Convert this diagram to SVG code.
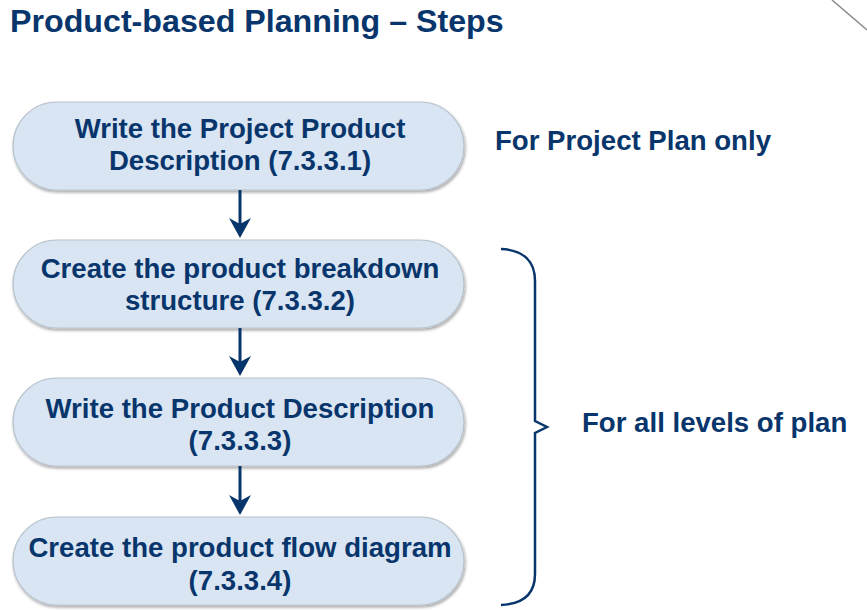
<svg xmlns="http://www.w3.org/2000/svg" width="867" height="610" viewBox="0 0 867 610">
  <defs>
    <filter id="shadow" x="-5%" y="-10%" width="110%" height="130%">
      <feGaussianBlur in="SourceAlpha" stdDeviation="1.5"/>
      <feOffset dx="1" dy="2" result="b"/>
      <feComponentTransfer><feFuncA type="linear" slope="0.35"/></feComponentTransfer>
      <feMerge><feMergeNode/><feMergeNode in="SourceGraphic"/></feMerge>
    </filter>
    <style>
      .box { fill: #d9e5f3; stroke: #b9c3cd; stroke-width: 1.2; filter: url(#shadow); }
      .t { font-family: "Liberation Sans", Arial, sans-serif; font-weight: bold; fill: #08366c; }
      .bt { font-size: 27.6px; text-anchor: middle; }
      .lbl { font-size: 27.6px; }
      .conn { stroke: #08366c; stroke-width: 3; fill: none; }
      .head { fill: #08366c; }
    </style>
  </defs>
  <rect width="867" height="610" fill="#ffffff"/>
  <line x1="832" y1="0" x2="867" y2="30" stroke="#8a8a8a" stroke-width="1.5"/>
  <text class="t" x="10" y="32" font-size="32.2">Product-based Planning – Steps</text>

  <g id="node1">
    <rect class="box" x="13" y="102" width="451" height="88" rx="44" ry="44"/>
    <text class="t bt" x="240" y="138">Write the Project Product</text>
    <text class="t bt" x="240" y="170">Description (7.3.3.1)</text>
  </g>
  <g id="node2">
    <rect class="box" x="13" y="240" width="451" height="88" rx="44" ry="44"/>
    <text class="t bt" x="240" y="278">Create the product breakdown</text>
    <text class="t bt" x="240" y="310">structure (7.3.3.2)</text>
  </g>
  <g id="node3">
    <rect class="box" x="13" y="378" width="451" height="88" rx="44" ry="44"/>
    <text class="t bt" x="240" y="418">Write the Product Description</text>
    <text class="t bt" x="240" y="450">(7.3.3.3)</text>
  </g>
  <g id="node4">
    <rect class="box" x="13" y="517" width="451" height="88" rx="44" ry="44"/>
    <text class="t bt" x="240" y="557">Create the product flow diagram</text>
    <text class="t bt" x="240" y="590">(7.3.3.4)</text>
  </g>

  <g id="connectors">
    <path class="conn" d="M240,190 L240,226"/>
    <path class="head" d="M229,218 L240,224 L251,218 L240,238 Z"/>
    <path class="conn" d="M240,328 L240,364"/>
    <path class="head" d="M229,356 L240,362 L251,356 L240,376 Z"/>
    <path class="conn" d="M240,466 L240,503"/>
    <path class="head" d="M229,495 L240,501 L251,495 L240,515 Z"/>
  </g>

  <g id="brace">
    <path d="M501,249 C524,250 535,262 535,281 L535,421 L547,427 L535,433 L535,574 C535,593 524,604 501,605" fill="none" stroke="#08366c" stroke-width="2.5" stroke-linejoin="miter"/>
  </g>

  <g id="label-project">
    <text class="t lbl" x="495" y="150">For Project Plan only</text>
  </g>
  <g id="label-all">
    <text class="t lbl" x="582" y="432">For all levels of plan</text>
  </g>
</svg>
